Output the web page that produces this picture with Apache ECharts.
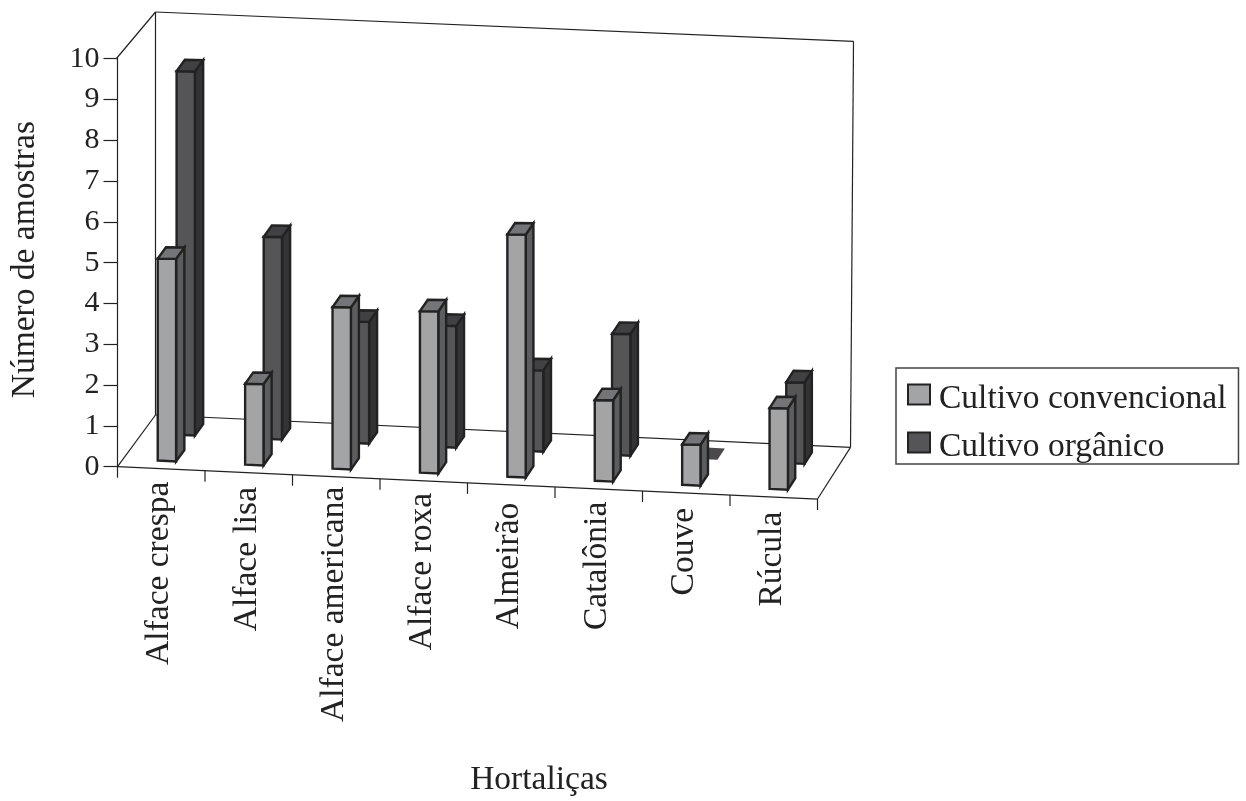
<!DOCTYPE html>
<html>
<head>
<meta charset="utf-8">
<style>
html, body { margin: 0; padding: 0; background: #fff; }
#chart { width: 1246px; height: 801px; }
</style>
<script src="https://cdn.jsdelivr.net/npm/echarts@6/dist/echarts.min.js"></script>
</head>
<body>
<div id="chart"></div>
<script>
const categories = ['Alface crespa', 'Alface lisa', 'Alface americana', 'Alface roxa', 'Almeirão', 'Catalônia', 'Couve', 'Rúcula'];
const convencional = [5, 2, 4, 4, 6, 2, 1, 2];
const organico = [9, 5, 3, 3, 2, 3, 0, 2];
const yTicks = [0, 10];

const font = '"Liberation Serif", "Times New Roman", serif';
const ink = '#222';

// fake 3D: floor shear and depth vector, same look as the old spreadsheet chart
const SHEAR = 0.0462;
const labelTop = [481.7, 487, 486.7, 493, 502.7, 501.7, 508, 511.7];

function depthX(u) { return 38 - 5 * u / 8; }

function project(api, u, v, d) {
    const band = api.size([1, 0])[0];
    const p = api.coord([0, v]);
    const x = p[0] + (u - 0.5) * band;
    return [x + d * depthX(u), p[1] + (x - api.coord([0, 0])[0] + band / 2) * SHEAR - 51.7 * d];
}

function poly(points, fill) {
    return {
        type: 'polygon',
        shape: { points: points },
        style: { fill: fill, stroke: ink, lineWidth: 2.4, lineJoin: 'miter' }
    };
}

function line(a, b, width) {
    return {
        type: 'line',
        shape: { x1: a[0], y1: a[1], x2: b[0], y2: b[1] },
        style: { stroke: ink, lineWidth: width || 1.2 }
    };
}

function barItem(d0, d1, colors) {
    return function (params, api) {
        const u = api.value(0) + 0.5;
        const value = api.value(1);
        const halfWidth = 0.105;
        const fl = project(api, u - halfWidth, 0, d0);
        const fr = project(api, u + halfWidth, 0, d0);
        const br = project(api, u + halfWidth, 0, d1);
        const bl = project(api, u - halfWidth, 0, d1);
        const h = (api.coord([0, 0])[1] - api.coord([0, value])[1]) * 0.99;
        // top of the front face stays nearly flat in the reference
        const tl = [fl[0], fl[1] - h];
        const tr = [fr[0], fl[1] - h + 0.3];
        const dx = br[0] - fr[0];
        const dy = br[1] - fr[1];
        const tbr = [tr[0] + dx, tr[1] + dy];
        const tbl = [tl[0] + dx, tl[1] + dy];
        const children = [];
        if (value > 0) {
            children.push(poly([fr, br, tbr, tr], colors.side));
            children.push(poly([fl, fr, tr, tl], colors.front));
            children.push(poly([tl, tr, tbr, tbl], colors.top));
        } else {
            children.push({
                type: 'polygon',
                shape: { points: [fl, fr, br, bl] },
                style: { fill: '#4a4a4c' }
            });
        }
        return { type: 'group', children: children };
    };
}

function frameItem(params, api) {
    const n = categories.length;
    const floorFL = project(api, 0, 0, 0);
    const floorFR = project(api, n, 0, 0);
    const floorBR = project(api, n, 0, 1);
    const floorBL = project(api, 0, 0, 1);
    const topFL = project(api, 0, 10, 0);
    const topBL = [floorBL[0], floorBL[1] - 403];
    const topBR = [floorBR[0] + 3, floorBR[1] - 406];
    const children = [
        line(floorFL, floorFR), line(floorFR, floorBR), line(floorBR, floorBL), line(floorBL, floorFL),
        line(floorBL, topBL), line(topBL, topBR), line(topBR, floorBR), line([topFL[0] - 1.5, 59], topBL)
    ];
    for (let i = 0; i <= n; i++) {
        const p = project(api, i, 0, 0);
        children.push(line(p, [p[0], p[1] + 11]));
    }
    categories.forEach(function (name, i) {
        const p = project(api, i + 0.5, 0, 0);
        children.push({
            type: 'text',
            x: p[0] - 2,
            y: labelTop[i],
            rotation: Math.PI / 2,
            style: {
                text: name,
                font: '33.5px ' + font,
                fill: ink,
                align: 'right',
                verticalAlign: 'middle'
            }
        });
    });
    return { type: 'group', children: children };
}

const chart = echarts.init(document.getElementById('chart'), null, { renderer: 'canvas' });

chart.setOption({
    animation: false,
    backgroundColor: '#fff',
    grid: { left: 117.5, top: 58.7, width: 700, height: 408, outerBoundsMode: 'none' },
    legend: {
        orient: 'vertical',
        left: 896,
        top: 368,
        padding: [14, 12, 0, 11],
        itemGap: 14,
        itemWidth: 22,
        itemHeight: 29,
        // square in the upper part of the icon box, sits a bit above the text centre
        icon: 'path://M0,0H22V20H0Z M0,29L0,29',
        borderColor: '#444',
        borderWidth: 1.5,
        textStyle: { fontFamily: font, fontSize: 33.5, color: ink, padding: [0, 0, 0, 4] },
        itemStyle: { borderColor: ink, borderWidth: 2 },
        data: ['Cultivo convencional', 'Cultivo orgânico']
    },
    xAxis: {
        type: 'category',
        data: categories,
        name: 'Hortaliças',
        nameLocation: 'middle',
        nameGap: 297,
        nameTextStyle: { fontFamily: font, fontSize: 33.5, color: ink, padding: [0, 0, 0, 143] },
        axisLine: { show: false },
        axisTick: { show: false },
        axisLabel: { show: false }
    },
    yAxis: {
        type: 'value',
        min: yTicks[0],
        max: yTicks[1],
        interval: 1,
        name: 'Número de amostras',
        nameLocation: 'middle',
        nameGap: 75,
        nameTextStyle: { fontFamily: font, fontSize: 33.5, color: ink, padding: [0, 0, 0, 6] },
        splitLine: { show: false },
        axisLine: { show: true, lineStyle: { color: ink, width: 1.2 } },
        axisTick: { show: true, length: 14, lineStyle: { color: ink, width: 1.2 } },
        axisLabel: { fontFamily: font, fontSize: 30, color: ink, margin: 18, padding: [3, 0, 0, 0] }
    },
    series: [
        {
            type: 'custom',
            name: 'frame',
            coordinateSystem: 'cartesian2d',
            clip: false,
            silent: true,
            z: 1,
            data: [[0, 0]],
            encode: { x: 0, y: 1 },
            renderItem: frameItem
        },
        {
            type: 'custom',
            name: 'Cultivo orgânico',
            coordinateSystem: 'cartesian2d',
            clip: false,
            z: 2,
            itemStyle: { color: '#555557' },
            data: organico.map(function (v, i) { return [i, v]; }),
            encode: { x: 0, y: 1 },
            renderItem: barItem(0.65, 0.87, { front: '#555557', side: '#333335', top: '#414143' })
        },
        {
            type: 'custom',
            name: 'Cultivo convencional',
            coordinateSystem: 'cartesian2d',
            clip: false,
            z: 3,
            itemStyle: { color: '#a3a4a6' },
            data: convencional.map(function (v, i) { return [i, v]; }),
            encode: { x: 0, y: 1 },
            renderItem: barItem(0.15, 0.37, { front: '#a3a4a6', side: '#5b5d5f', top: '#737578' })
        }
    ]
});
</script>
</body>
</html>
